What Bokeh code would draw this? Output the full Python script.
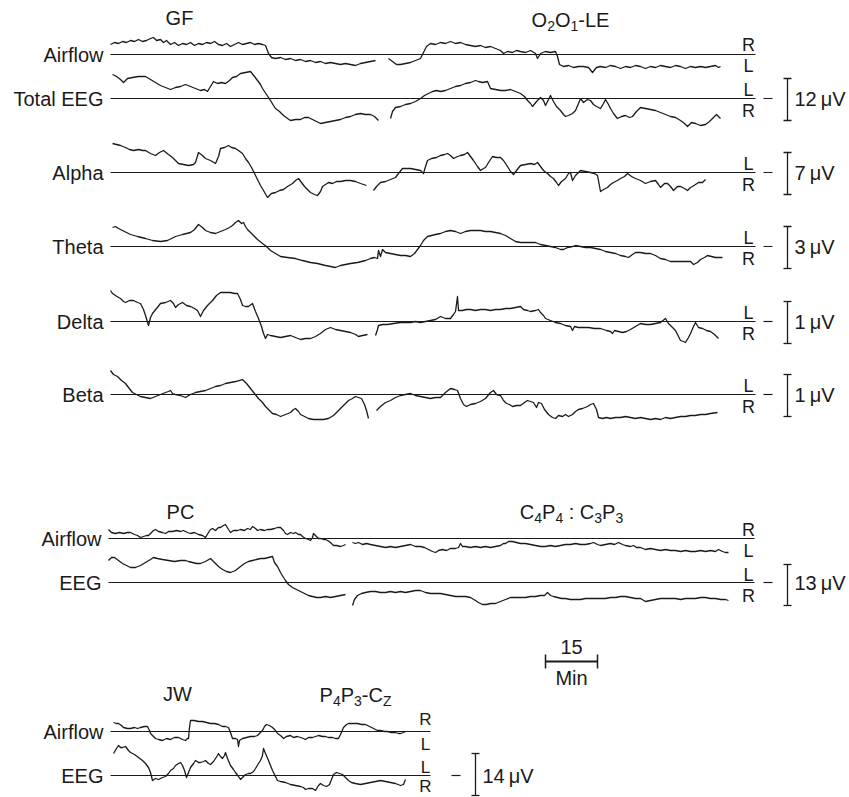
from bokeh.plotting import figure
from bokeh.models import Range1d
from bokeh.embed import file_html
from bokeh.resources import INLINE
from bokeh.core.properties import value

FONT = "Liberation Sans"
INK = "#1a1a1a"

# ---------------- data: (time position, deflection) read from the record ----------------
# GF, O2O1-LE
GF_AIR_A = [(110,10),(114,12),(118,11),(122,13),(126,12),(130,14),(134,13),(138,15),(142,13),(146,14),(150,16),(153,17),(156,14),(160,15),(163,12),(166,14),(170,10),(174,12),(178,9),(182,11),(186,10),(190,12),(194,9),(198,11),(202,10),(206,12),(210,11),(214,13),(218,10),(222,9),(226,11),(230,8),(234,10),(238,12),(242,10),(246,11),(250,12),(254,10),(258,11),(262,10),(265,9),(268,1),(271,-3),(275,-4),(280,-3),(285,-5),(290,-4),(295,-6),(300,-5),(305,-7),(310,-6),(315,-8),(320,-7),(325,-9),(330,-8),(335,-9),(340,-10),(345,-9),(350,-10),(355,-11),(360,-9),(365,-8),(370,-7),(375,-6)]
GF_AIR_B = [(388,-4),(392,-7),(396,-10),(400,-10),(405,-9),(410,-8),(415,-6),(420,-4),(423,2),(426,8),(430,11),(435,10),(440,12),(445,11),(450,13),(455,11),(460,12),(465,10),(470,9),(475,8),(480,9),(485,7),(490,8),(495,6),(500,4),(503,1),(507,3),(512,2),(516,4),(520,3),(525,2),(530,4),(535,1),(537,-4),(540,1),(545,3),(550,2),(555,3),(557,-2),(559,-10),(563,-12),(568,-11),(573,-13),(578,-12),(583,-12),(588,-13),(592,-18),(596,-13),(600,-12),(605,-13),(610,-11),(615,-12),(620,-14),(625,-12),(630,-13),(635,-11),(640,-12),(645,-14),(650,-12),(655,-13),(660,-11),(665,-12),(670,-13),(675,-11),(680,-12),(685,-14),(690,-12),(695,-13),(700,-12),(705,-13),(710,-12),(715,-11),(718,-13),(720,-12)]
GF_TOT_A = [(112,24),(116,22),(120,19),(123,16),(127,20),(132,21),(138,22),(145,22),(150,19),(155,16),(160,13),(165,11),(170,9),(175,11),(180,12),(185,14),(190,12),(195,10),(200,8),(204,9),(207,7),(210,12),(213,17),(217,15),(221,16),(225,15),(229,18),(232,21),(236,22),(240,25),(245,26),(250,27),(254,22),(257,18),(260,14),(262,10),(266,4),(270,-2),(273,-7),(275,-10),(279,-13),(283,-17),(287,-20),(290,-22),(295,-21),(300,-21),(304,-19),(308,-19),(312,-21),(316,-23),(320,-25),(325,-24),(330,-23),(335,-22),(340,-21),(345,-19),(350,-18),(355,-16),(360,-15),(365,-16),(370,-16),(374,-18),(378,-22)]
GF_TOT_B = [(390,-20),(392,-13),(395,-9),(400,-8),(405,-6),(410,-5),(415,-3),(420,0),(424,3),(428,5),(432,7),(436,8),(440,7),(445,8),(450,10),(455,12),(460,13),(465,15),(470,16),(475,18),(478,17),(482,16),(487,17),(490,10),(495,9),(500,8),(505,8),(510,9),(515,7),(520,5),(524,2),(527,-2),(530,-5),(532,-8),(536,-3),(540,1),(543,-2),(545,-7),(548,-1),(550,3),(553,-3),(556,-8),(560,-12),(563,-16),(565,-18),(568,-17),(572,-15),(575,-12),(578,-5),(580,0),(583,-4),(587,-1),(590,-2),(593,-6),(596,-8),(600,-10),(603,-5),(605,-1),(608,-6),(610,-10),(613,-15),(617,-20),(621,-18),(625,-17),(629,-19),(632,-18),(636,-13),(640,-9),(645,-10),(650,-11),(655,-12),(660,-14),(665,-16),(670,-18),(675,-19),(680,-22),(684,-25),(687,-28),(691,-24),(695,-25),(700,-27),(705,-26),(709,-23),(712,-20),(716,-16),(720,-20)]
GF_ALPHA_A = [(112,29),(116,28),(120,27),(125,25),(129,23),(133,22),(138,23),(142,22),(145,22),(150,19),(155,17),(159,20),(163,22),(168,18),(172,15),(175,12),(178,9),(183,8),(188,7),(193,8),(195,10),(198,20),(202,17),(205,14),(210,12),(215,9),(218,16),(220,24),(224,25),(228,27),(231,25),(235,24),(238,22),(242,19),(245,14),(248,10),(251,5),(255,-3),(258,-9),(260,-13),(263,-18),(267,-25),(271,-21),(275,-20),(279,-18),(283,-17),(287,-14),(292,-11),(295,-8),(298,-6),(301,-10),(304,-14),(307,-17),(310,-20),(314,-22),(317,-23),(320,-19),(322,-14),(325,-12),(328,-10),(332,-11),(336,-9),(340,-9),(345,-8),(350,-8),(355,-9),(360,-11),(363,-12),(366,-13)]
GF_ALPHA_B = [(373,-18),(376,-14),(380,-10),(385,-9),(390,-7),(395,-5),(398,-1),(402,4),(405,4),(410,4),(415,3),(420,2),(423,-1),(425,6),(427,12),(431,14),(436,15),(440,17),(444,18),(447,19),(450,17),(453,14),(457,16),(460,17),(464,18),(467,20),(470,16),(473,12),(477,6),(480,2),(483,4),(485,5),(488,10),(492,16),(496,15),(500,15),(503,12),(507,6),(510,1),(513,-2),(516,2),(520,7),(525,8),(530,9),(534,8),(537,10),(540,6),(543,2),(547,-1),(550,-4),(553,-6),(556,-10),(558,-13),(561,-9),(565,-6),(568,-1),(570,0),(572,-8),(575,-3),(580,2),(585,1),(590,0),(594,-1),(597,-3),(600,-19),(603,-17),(607,-15),(610,-12),(613,-10),(617,-8),(620,-6),(624,-4),(627,-1),(631,-4),(635,-6),(640,-8),(645,-11),(650,-9),(655,-8),(658,-12),(660,-15),(664,-11),(667,-11),(670,-14),(673,-18),(677,-14),(680,-14),(684,-16),(687,-18),(690,-15),(692,-14),(695,-12),(698,-10),(702,-10),(705,-7)]
GF_THETA = [(112,19),(115,20),(118,18),(124,15),(130,12),(137,10),(145,8),(152,6),(160,5),(167,6),(175,10),(182,12),(190,14),(194,17),(198,22),(202,19),(205,16),(210,14),(215,13),(220,15),(225,17),(229,19),(232,21),(235,24),(238,26),(241,23),(243,24),(245,20),(247,17),(250,14),(253,11),(257,7),(262,3),(266,0),(270,-4),(275,-7),(280,-10),(287,-11),(295,-12),(302,-14),(310,-16),(317,-17),(325,-19),(330,-20),(335,-21),(340,-19),(345,-18),(350,-17),(357,-16),(365,-14),(370,-12),(374,-11),(377,-12),(378,-4),(380,-10),(382,-3),(385,-6),(390,-7),(395,-8),(400,-9),(405,-9),(410,-10),(414,-7),(417,-3),(420,1),(423,6),(427,10),(431,11),(435,12),(440,13),(445,15),(450,16),(455,15),(460,13),(465,15),(470,16),(475,16),(480,16),(485,15),(490,15),(495,14),(500,13),(505,11),(510,8),(515,5),(520,4),(525,4),(530,4),(535,4),(540,2),(545,1),(550,0),(555,-1),(560,-3),(563,-3),(567,-1),(572,0),(575,1),(580,0),(585,-1),(590,-1),(595,-2),(600,-3),(605,-5),(610,-6),(615,-7),(620,-9),(625,-10),(628,-11),(632,-8),(635,-6),(640,-6),(645,-7),(650,-7),(655,-9),(660,-12),(665,-13),(670,-15),(675,-15),(680,-15),(685,-15),(690,-15),(693,-18),(697,-16),(700,-13),(704,-11),(707,-9),(711,-10),(715,-11),(719,-11),(722,-11)]
GF_DELTA_A = [(110,31),(112,28),(115,26),(118,24),(120,23),(123,20),(125,19),(129,21),(133,21),(137,19),(140,18),(143,12),(145,6),(148,-4),(150,4),(152,8),(156,13),(160,18),(165,19),(170,21),(173,18),(175,14),(178,17),(182,19),(186,16),(190,15),(194,13),(197,11),(199,7),(200,5),(203,11),(207,16),(212,21),(216,26),(220,29),(225,29),(230,29),(234,28),(237,28),(240,22),(242,16),(245,15),(248,15),(252,18),(255,10),(258,3),(261,-5),(263,-12),(265,-17),(267,-13),(270,-14),(275,-15),(280,-16),(285,-15),(290,-14),(295,-16),(300,-18),(305,-17),(310,-17),(315,-15),(320,-12),(325,-8),(330,-6),(335,-8),(340,-9),(345,-10),(350,-11),(355,-13),(358,-15),(362,-14),(367,-13)]
GF_DELTA_B = [(375,-14),(377,-8),(378,-4),(382,-3),(387,-3),(393,-2),(400,-1),(405,-1),(410,-1),(415,0),(420,-1),(425,0),(430,1),(435,2),(440,5),(445,3),(450,3),(453,7),(455,10),(457,25),(458,11),(462,11),(466,12),(470,12),(475,11),(480,12),(485,12),(490,11),(495,12),(500,12),(505,13),(510,13),(515,14),(520,15),(523,12),(527,11),(530,10),(535,11),(538,12),(540,9),(543,6),(545,3),(550,1),(555,-1),(560,-2),(565,-4),(570,-5),(572,-9),(574,-5),(578,-6),(582,-6),(588,-6),(594,-7),(600,-7),(606,-9),(610,-10),(612,-12),(614,-9),(618,-10),(622,-11),(626,-10),(630,-8),(635,-5),(640,-2),(645,-3),(650,-3),(655,-2),(660,-1),(665,3),(668,-2),(672,-6),(675,-9),(678,-15),(680,-19),(683,-20),(685,-21),(688,-16),(690,-12),(693,-5),(695,-1),(698,-6),(702,-7),(706,-9),(710,-10),(714,-13),(718,-17)]
GF_BETA_A = [(110,24),(113,20),(117,18),(121,14),(125,11),(128,7),(132,2),(136,0),(140,-2),(145,-3),(150,-4),(155,-2),(160,0),(165,2),(168,3),(170,4),(172,1),(175,0),(180,-1),(185,-3),(190,0),(195,2),(200,3),(205,4),(210,6),(215,8),(220,9),(225,11),(230,12),(235,13),(242,15),(246,11),(250,6),(254,1),(258,-4),(262,-8),(265,-12),(268,-15),(272,-19),(276,-20),(280,-22),(285,-20),(290,-18),(293,-15),(295,-14),(298,-17),(300,-20),(304,-22),(308,-24),(313,-25),(318,-25),(323,-25),(328,-24),(333,-21),(338,-16),(343,-11),(348,-6),(352,-4),(355,-2),(358,-3),(361,-4),(364,-10),(366,-16),(368,-24)]
GF_BETA_B = [(376,-16),(380,-12),(385,-8),(390,-6),(395,-3),(400,-1),(405,0),(410,1),(415,-1),(420,-2),(425,-3),(430,-4),(435,-3),(440,-3),(445,2),(450,6),(454,5),(457,4),(460,-4),(463,-10),(466,-12),(470,-10),(475,-9),(480,-7),(485,-4),(490,2),(493,4),(496,0),(500,-1),(503,-6),(506,-9),(509,-10),(512,-12),(516,-11),(520,-11),(524,-8),(527,-6),(530,-7),(533,-8),(536,-13),(538,-8),(541,-9),(544,-15),(548,-20),(552,-23),(555,-24),(558,-21),(562,-22),(565,-20),(568,-22),(572,-20),(575,-17),(578,-15),(582,-14),(587,-12),(590,-10),(593,-9),(596,-15),(598,-23),(602,-24),(606,-23),(610,-24),(615,-23),(620,-23),(625,-22),(630,-23),(635,-24),(640,-23),(645,-24),(650,-25),(655,-24),(660,-25),(665,-23),(670,-24),(675,-23),(680,-22),(685,-22),(690,-21),(695,-21),(700,-20),(705,-20),(710,-19),(717,-18)]
# PC, C4P4 : C3P3
PC_AIR_A = [(108,9),(111,6),(115,5),(119,6),(123,5),(127,6),(130,6),(134,4),(137,3),(140,1),(143,2),(146,3),(148,3),(151,6),(153,8),(155,9),(158,7),(162,6),(165,5),(168,7),(172,7),(176,8),(180,7),(183,8),(187,6),(190,5),(194,6),(198,4),(202,3),(205,1),(208,6),(210,9),(212,10),(215,8),(218,11),(220,11),(223,13),(225,14),(228,9),(230,6),(233,8),(237,8),(240,9),(244,8),(247,10),(250,9),(252,12),(255,10),(257,8),(260,9),(264,8),(267,9),(270,9),(274,10),(277,11),(280,11),(283,8),(285,5),(287,4),(290,6),(293,5),(295,6),(298,4),(300,4),(302,2),(305,0),(308,-1),(310,-2),(312,1),(313,5),(315,3),(318,0),(320,0),(323,-1),(325,-1),(327,-2),(330,-4),(333,-7),(336,-7),(340,-8),(343,-7),(345,-6)]
PC_AIR_B = [(352,-4),(355,-5),(358,-4),(362,-6),(366,-5),(370,-6),(375,-7),(380,-8),(385,-9),(390,-8),(395,-9),(400,-8),(405,-7),(410,-6),(415,-8),(420,-8),(424,-9),(428,-11),(432,-13),(435,-14),(438,-12),(442,-11),(446,-12),(450,-10),(455,-10),(458,-9),(460,-5),(462,-8),(465,-8),(470,-9),(475,-8),(480,-9),(485,-8),(490,-9),(495,-8),(500,-7),(503,-5),(505,-5),(508,-3),(512,-3),(516,-4),(520,-5),(525,-5),(530,-6),(535,-7),(540,-8),(545,-8),(550,-7),(555,-8),(560,-7),(565,-6),(570,-6),(575,-5),(580,-6),(585,-6),(590,-5),(593,-4),(597,-6),(600,-7),(605,-6),(610,-5),(614,-6),(618,-4),(622,-6),(625,-7),(630,-8),(633,-7),(636,-9),(640,-9),(645,-11),(650,-10),(655,-11),(660,-12),(665,-11),(670,-12),(675,-12),(680,-13),(685,-12),(690,-13),(695,-13),(700,-12),(705,-13),(710,-12),(715,-13),(718,-11),(722,-13),(725,-14),(728,-14)]
PC_EEG_A = [(108,22),(111,25),(114,25),(118,22),(122,19),(126,17),(130,15),(135,15),(140,17),(145,20),(150,23),(153,25),(157,24),(162,23),(168,22),(174,21),(180,22),(185,22),(188,21),(192,20),(196,19),(200,19),(205,21),(210,24),(214,20),(218,16),(222,13),(226,11),(230,10),(235,12),(240,16),(244,19),(248,21),(252,22),(256,23),(260,24),(264,24),(268,25),(272,26),(274,20),(277,16),(280,10),(283,5),(285,2),(288,-2),(292,-5),(296,-7),(300,-9),(304,-11),(308,-13),(312,-14),(316,-15),(320,-15),(325,-14),(330,-15),(335,-14),(340,-13),(345,-12)]
PC_EEG_B = [(352,-23),(354,-17),(357,-13),(361,-11),(365,-10),(370,-9),(375,-9),(380,-10),(385,-10),(390,-9),(395,-10),(400,-9),(405,-10),(410,-9),(415,-8),(420,-8),(425,-10),(430,-11),(435,-11),(440,-11),(445,-12),(450,-13),(455,-14),(460,-14),(465,-14),(470,-15),(475,-18),(478,-20),(482,-22),(486,-22),(490,-21),(495,-21),(500,-19),(505,-17),(510,-15),(515,-15),(520,-15),(525,-15),(530,-14),(535,-14),(540,-13),(544,-13),(547,-10),(550,-13),(553,-14),(557,-15),(561,-16),(565,-16),(570,-17),(575,-17),(580,-17),(585,-16),(590,-16),(595,-16),(600,-16),(605,-16),(610,-15),(615,-15),(620,-14),(625,-14),(630,-15),(635,-16),(640,-16),(645,-19),(650,-18),(655,-17),(660,-16),(665,-16),(670,-16),(675,-16),(680,-17),(685,-16),(690,-16),(695,-16),(700,-15),(705,-15),(710,-16),(715,-16),(720,-17),(725,-17),(728,-18)]
# JW, P4P3-Cz
JW_AIR = [(113,9),(116,8),(118,8),(121,6),(123,4),(127,3),(130,3),(134,4),(137,3),(140,4),(144,5),(147,5),(149,1),(150,-2),(153,-5),(155,-7),(158,-8),(162,-9),(166,-7),(170,-8),(174,-6),(178,-6),(182,-8),(185,-9),(187,-7),(188,-7),(189,4),(190,11),(194,11),(198,10),(202,10),(206,9),(210,8),(214,8),(218,7),(222,5),(225,5),(228,4),(230,-1),(232,-7),(235,-7),(237,-8),(238,-15),(239,-9),(242,-7),(246,-6),(250,-5),(254,-5),(257,-4),(260,-1),(262,1),(264,5),(266,7),(269,6),(272,4),(275,1),(277,-2),(280,-4),(283,-7),(286,-5),(290,-4),(293,-6),(297,-5),(300,-6),(303,-7),(305,-8),(308,-6),(312,-6),(315,-5),(318,-4),(322,-5),(325,-5),(328,-6),(332,-6),(335,-7),(338,-7),(340,-3),(343,4),(346,7),(348,8),(352,8),(357,8),(361,7),(365,7),(369,5),(373,3),(377,1),(380,1),(384,0),(387,0),(391,-1),(395,-1),(398,-2),(400,-2),(403,-1),(405,0)]
JW_EEG = [(113,22),(116,27),(118,30),(120,28),(122,28),(125,29),(128,25),(130,23),(134,21),(138,18),(142,15),(145,12),(148,8),(150,3),(152,-5),(155,-3),(158,-4),(162,-2),(165,-1),(168,2),(170,5),(173,7),(175,10),(178,12),(180,13),(182,10),(184,5),(186,-2),(188,3),(190,8),(193,12),(195,15),(198,13),(200,13),(203,14),(205,15),(208,12),(210,11),(213,14),(215,17),(217,20),(218,22),(220,19),(222,17),(224,20),(225,23),(227,17),(230,10),(233,6),(235,3),(238,-1),(240,-4),(243,-1),(245,1),(248,2),(250,2),(253,4),(255,7),(258,12),(260,15),(262,20),(263,27),(265,22),(268,15),(270,10),(272,5),(275,-1),(277,-5),(280,-6),(285,-7),(290,-9),(295,-10),(300,-11),(303,-12),(305,-14),(308,-13),(312,-13),(315,-15),(318,-10),(320,-8),(323,-10),(326,-11),(329,-9),(331,-4),(333,1),(336,3),(339,2),(342,1),(345,-2),(348,-5),(351,-7),(355,-8),(360,-9),(365,-8),(370,-7),(375,-6),(380,-5),(385,-6),(390,-7),(395,-8),(400,-10),(403,-9),(405,-4)]

# channel names, polarity letters (above / below line), calibration labels
GF_NAMES = ["Airflow", "Total EEG", "Alpha", "Theta", "Delta", "Beta"]
GF_POL = [("R", "L"), ("L", "R"), ("L", "R"), ("L", "R"), ("L", "R"), ("L", "R")]
GF_CAL = [None, "12", "7", "3", "1", "1"]
PC_NAMES = ["Airflow", "EEG"]
PC_POL = [("R", "L"), ("L", "R")]
PC_CAL = [None, "13"]
JW_NAMES = ["Airflow", "EEG"]
JW_POL = [("R", "L"), ("L", "R")]
JW_CAL = [None, "14"]
SCALE_MIN = 15

# ---------------- layout (screen placement) ----------------
GF_BASE = [54, 98, 172, 246, 321, 394]
PC_BASE = [538, 582]
JW_BASE = [731, 775]
GF_TRACES = [[GF_AIR_A, GF_AIR_B], [GF_TOT_A, GF_TOT_B], [GF_ALPHA_A, GF_ALPHA_B],
             [GF_THETA], [GF_DELTA_A, GF_DELTA_B], [GF_BETA_A, GF_BETA_B]]
PC_TRACES = [[PC_AIR_A, PC_AIR_B], [PC_EEG_A, PC_EEG_B]]
JW_TRACES = [[JW_AIR], [JW_EEG]]
PX_PER_MIN = 52 / 15.0

p = figure(width=849, height=797, x_range=Range1d(0, 849), y_range=Range1d(797, 0),
           output_backend="svg", toolbar_location=None, x_axis_type=None, y_axis_type=None,
           min_border=0)
p.outline_line_color = None
p.background_fill_color = "white"
p.border_fill_color = "white"


def txt(x, y, s, size=20, align="left", baseline="middle"):
    p.text(x=[x], y=[y], text=[s], text_font=value(FONT), text_font_size=f"{size}px",
           text_align=align, text_baseline=baseline, text_color=INK)


def panel(names, pol, cal, bases, traces, x0, x1, letter_x, cal_x,
          lsize=18, offs=((-10, 11), (-9, 12)), br=(-20, 22)):
    for i, (name, (up, dn), c, b, segs) in enumerate(zip(names, pol, cal, bases, traces)):
        p.line([x0, x1], [b, b], line_color=INK, line_width=1.0)
        txt(x0 - 7, b, name, align="right")
        for seg in segs:
            xs = [a for a, _ in seg]
            ys = [b - v for _, v in seg]
            p.line(xs, ys, line_color=INK, line_width=1.3, line_join="round")
        o_up, o_dn = offs[0] if i == 0 else offs[1]
        txt(letter_x, b + o_up, up, size=lsize, align="center")
        txt(letter_x, b + o_dn, dn, size=lsize, align="center")
        if c is not None:
            p.line([cal_x - 24, cal_x - 15], [b, b], line_color=INK, line_width=1.2)
            p.line([cal_x, cal_x], [b + br[0], b + br[1]], line_color=INK, line_width=1.3)
            p.line([cal_x - 4, cal_x + 4], [b + br[0], b + br[0]], line_color=INK, line_width=1.3)
            p.line([cal_x - 4, cal_x + 4], [b + br[1], b + br[1]], line_color=INK, line_width=1.3)
            txt(cal_x + 7, b, c + "\u2009\u03bcV")


W = {"O": 0.778, "L": 0.556, "E": 0.667, "C": 0.722, "P": 0.667, "Z": 0.611, "-": 0.333,
     ":": 0.278, " ": 0.278, "G": 0.778, "F": 0.611, "J": 0.5, "W": 0.944}


def rich(cx, y, pieces, size=20, sub=14):
    def width(s, fs):
        return sum(W.get(ch, 0.556) for ch in s) * fs
    total = sum(width(s, sub if b else size) for s, b in pieces)
    x = cx - total / 2
    for s, is_sub in pieces:
        fs = sub if is_sub else size
        if s.strip():
            txt(x, y + (6 if is_sub else 0), s, size=fs)
        x += width(s, fs)


# GF panel
txt(179, 17.5, "GF", align="center")
rich(570, 19.5, [("O", False), ("2", True), ("O", False), ("1", True), ("-LE", False)])
panel(GF_NAMES, GF_POL, GF_CAL, GF_BASE, GF_TRACES, 110, 755, 748, 787)

# PC panel
txt(180, 511.5, "PC", align="center")
rich(571, 511, [("C", False), ("4", True), ("P", False), ("4", True), (" ", False), (":", False),
                (" ", False), ("C", False), ("3", True), ("P", False), ("3", True)])
panel(PC_NAMES, PC_POL, PC_CAL, PC_BASE, PC_TRACES, 108, 754, 748, 787,
      offs=((-9, 12), (-8, 13)), br=(-18, 23))

# time scale
sx0 = 545
sx1 = sx0 + SCALE_MIN * PX_PER_MIN
p.line([sx0, sx1], [661, 661], line_color=INK, line_width=2)
p.line([sx0, sx0], [654, 668], line_color=INK, line_width=1.5)
p.line([sx1, sx1], [654, 668], line_color=INK, line_width=1.5)
txt((sx0 + sx1) / 2, 646, str(SCALE_MIN), align="center")
txt((sx0 + sx1) / 2, 677, "Min", align="center")

# JW panel
txt(177, 693.5, "JW", align="center")
rich(355, 694, [("P", False), ("4", True), ("P", False), ("3", True), ("-C", False), ("Z", True)])
panel(JW_NAMES, JW_POL, JW_CAL, JW_BASE, JW_TRACES, 110, 430, 425, 475,
      lsize=17, offs=((-12, 13), (-8, 11)), br=(-22, 20))

open("out.html", "w").write(file_html(p, INLINE))
